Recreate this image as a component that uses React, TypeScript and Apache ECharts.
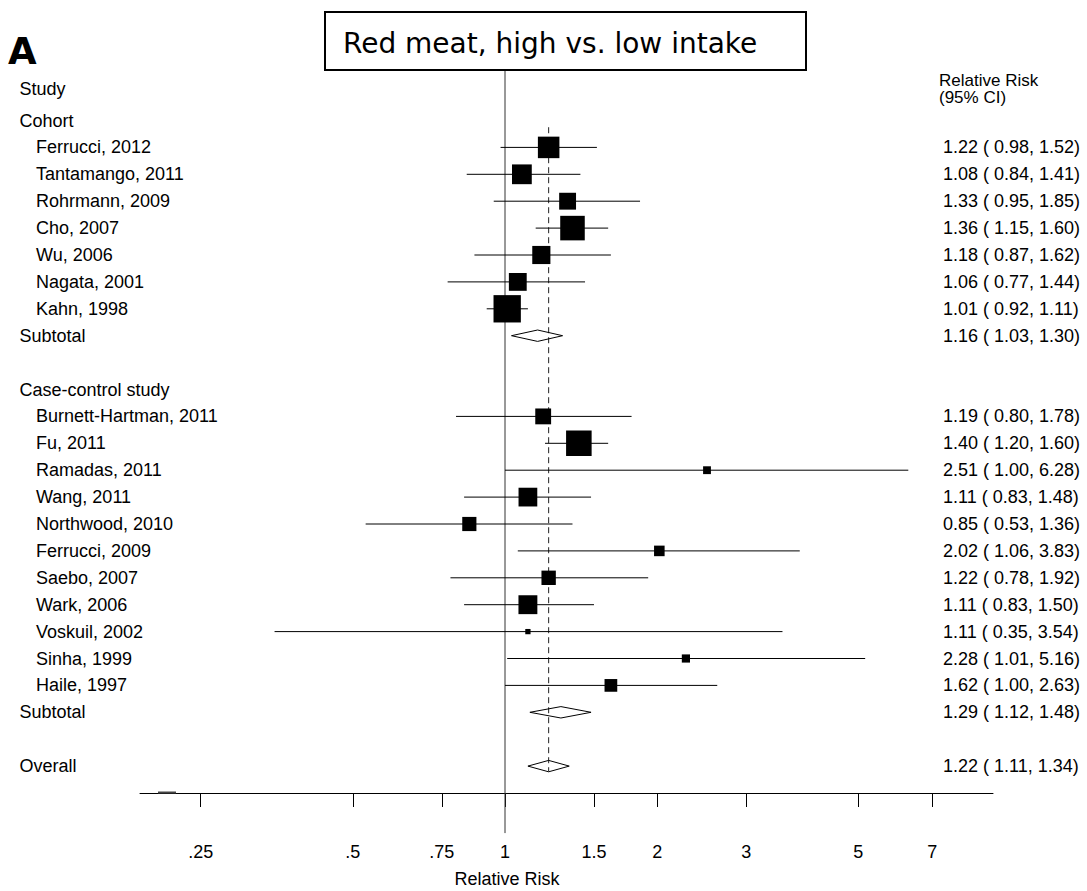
import React, { useEffect, useRef } from "react";
import * as echarts from "echarts";

// ---------- data ----------
const cohortStudies = ["Ferrucci, 2012", "Tantamango, 2011", "Rohrmann, 2009", "Cho, 2007", "Wu, 2006", "Nagata, 2001", "Kahn, 1998"];
const cohortRR = [1.22, 1.08, 1.33, 1.36, 1.18, 1.06, 1.01];
const cohortLo = [0.98, 0.84, 0.95, 1.15, 0.87, 0.77, 0.92];
const cohortHi = [1.52, 1.41, 1.85, 1.6, 1.62, 1.44, 1.11];
const cohortWeight = [8.3, 7.0, 5.1, 10.8, 5.9, 5.7, 13.4];
const cohortSubtotal = [1.16, 1.03, 1.3];

const ccStudies = ["Burnett-Hartman, 2011", "Fu, 2011", "Ramadas, 2011", "Wang, 2011", "Northwood, 2010", "Ferrucci, 2009", "Saebo, 2007", "Wark, 2006", "Voskuil, 2002", "Sinha, 1999", "Haile, 1997"];
const ccRR = [1.19, 1.4, 2.51, 1.11, 0.85, 2.02, 1.22, 1.11, 1.11, 2.28, 1.62];
const ccLo = [0.8, 1.2, 1.0, 0.83, 0.53, 1.06, 0.78, 0.83, 0.35, 1.01, 1.0];
const ccHi = [1.78, 1.6, 6.28, 1.48, 1.36, 3.83, 1.92, 1.5, 3.54, 5.16, 2.63];
const ccWeight = [4.5, 11.7, 1.1, 6.3, 3.6, 2.0, 3.7, 6.4, 0.5, 1.2, 2.9];
const ccSubtotal = [1.29, 1.12, 1.48];

const overall = [1.22, 1.11, 1.34];

const xTicks = [0.25, 0.5, 0.75, 1, 1.5, 2, 3, 5, 7];
const xTickLabels = [".25", ".5", ".75", "1", "1.5", "2", "3", "5", "7"];

// ---------- layout / style ----------
const FONT = "'Liberation Sans', Arial, sans-serif";
const AXIS_Y = 793;
const ROW_H = 26.9;
const Y_MIN = -3;
const Y_MAX = 24;
const GRID_LEFT = 140;
const GRID_RIGHT_PX = 993;
const PX_PER_LN = 219.5;
const X_ONE = 505;
const X_MIN = (GRID_LEFT - X_ONE) / PX_PER_LN;
const X_MAX = (GRID_RIGHT_PX - X_ONE) / PX_PER_LN;
const BOX_K = 7.47;
const DIAMOND_HALF = 5.7;

type Row = {
  label: string;
  indent: boolean;
  row: number;
  kind: "header" | "study" | "pooled";
  est?: number;
  lo?: number;
  hi?: number;
  w?: number;
};

function buildRows(): Row[] {
  const rows: Row[] = [];
  let r = -1;
  rows.push({ label: "Cohort", indent: false, row: r++, kind: "header" });
  cohortStudies.forEach((s, i) =>
    rows.push({ label: s, indent: true, row: r++, kind: "study", est: cohortRR[i], lo: cohortLo[i], hi: cohortHi[i], w: cohortWeight[i] })
  );
  rows.push({ label: "Subtotal", indent: false, row: r++, kind: "pooled", est: cohortSubtotal[0], lo: cohortSubtotal[1], hi: cohortSubtotal[2] });
  r++;
  rows.push({ label: "Case-control study", indent: false, row: r++, kind: "header" });
  ccStudies.forEach((s, i) =>
    rows.push({ label: s, indent: true, row: r++, kind: "study", est: ccRR[i], lo: ccLo[i], hi: ccHi[i], w: ccWeight[i] })
  );
  rows.push({ label: "Subtotal", indent: false, row: r++, kind: "pooled", est: ccSubtotal[0], lo: ccSubtotal[1], hi: ccSubtotal[2] });
  r++;
  rows.push({ label: "Overall", indent: false, row: r++, kind: "pooled", est: overall[0], lo: overall[1], hi: overall[2] });
  return rows;
}

const fmt = (e: number, l: number, h: number) => `${e.toFixed(2)} ( ${l.toFixed(2)}, ${h.toFixed(2)})`;

function txt(text: string, x: number, y: number, extra: any = {}) {
  return {
    type: "text",
    style: {
      text,
      x,
      y,
      fill: "#000",
      fontSize: 18,
      fontFamily: FONT,
      align: "left",
      verticalAlign: "middle",
      textAlign: "left",
      textVerticalAlign: "middle",
      ...extra,
    },
  };
}

export default function App() {
  const ref = useRef<HTMLDivElement>(null);

  useEffect(() => {
    if (!ref.current) return;
    const chart = echarts.init(ref.current, null, { renderer: "svg" });
    const rows = buildRows();

    const markData = rows
      .filter((r) => r.kind !== "header")
      .map((r) => [
        Math.log(r.est as number),
        Math.log(r.lo as number),
        Math.log(r.hi as number),
        r.row,
        r.kind === "study" ? BOX_K * Math.sqrt(r.w as number) : 0,
        r.kind === "study" ? 0 : 1,
      ]);

    const labelData = rows.map((r, i) => [0, r.row, i]);

    const refData = [
      [0, -2.874, 25.49, 0],
      [Math.log(overall[0]), -0.75, 23.2, 1],
    ];

    const lnTicks = xTicks.map((t) => Math.log(t));
    const gridTop = AXIS_Y - (Y_MAX - Y_MIN) * ROW_H;

    const option: any = {
      animation: false,
      backgroundColor: "#fff",
      grid: {
        left: GRID_LEFT,
        right: 1087 - GRID_RIGHT_PX,
        top: gridTop,
        bottom: 891 - AXIS_Y,
        containLabel: false,
      },
      xAxis: {
        type: "value",
        min: X_MIN,
        max: X_MAX,
        axisLine: { show: true, onZero: false, lineStyle: { color: "#000", width: 1 } },
        axisTick: { show: true, length: 14, lineStyle: { color: "#000", width: 1 }, customValues: lnTicks },
        axisLabel: {
          customValues: lnTicks,
          formatter: (v: number) => {
            const i = lnTicks.findIndex((t) => Math.abs(t - v) < 1e-6);
            return i >= 0 ? xTickLabels[i] : "";
          },
          margin: 50,
          fontSize: 18,
          fontFamily: FONT,
          color: "#000",
        },
        splitLine: { show: false },
      },
      yAxis: { type: "value", min: Y_MIN, max: Y_MAX, inverse: true, show: false },
      graphic: [
        {
          type: "rect",
          shape: { x: 325, y: 12, width: 481, height: 58 },
          style: { fill: "#fff", stroke: "#000", lineWidth: 2 },
          z: 10,
        },
        { ...txt("Red meat, high vs. low intake", 343, 43.5, { fontSize: 28, fontFamily: "'DejaVu Sans', Verdana, sans-serif" }), z: 11 },
        { ...txt("A", 8, 51.5, { fontSize: 37, fontWeight: "bold", fontFamily: "'DejaVu Sans', sans-serif" }), z: 11 },
        { ...txt("Study", 19.5, 89), z: 11 },
        { ...txt("Relative Risk", 939, 80, { fontSize: 17 }), z: 11 },
        { ...txt("(95% CI)", 939, 97, { fontSize: 17 }), z: 11 },
        { ...txt("Relative Risk", 507, 879, { align: "center", textAlign: "center" }), z: 11 },
        {
          type: "line",
          shape: { x1: 158, y1: 792.5, x2: 176, y2: 792.5 },
          style: { stroke: "#444", lineWidth: 2 },
          z: 11,
        },
      ],
      series: [
        {
          type: "custom",
          name: "reference",
          coordinateSystem: "cartesian2d",
          clip: false,
          z: 1,
          data: refData,
          renderItem: (_p: any, api: any) => {
            const a = api.coord([api.value(0), api.value(1)]);
            const b = api.coord([api.value(0), api.value(2)]);
            const dashed = api.value(3) === 1;
            return {
              type: "line",
              shape: { x1: a[0], y1: a[1], x2: b[0], y2: b[1] },
              style: {
                stroke: dashed ? "#222" : "#333",
                lineWidth: 1,
                lineDash: dashed ? [6, 4] : null,
              },
            };
          },
        },
        {
          type: "custom",
          name: "estimates",
          coordinateSystem: "cartesian2d",
          clip: false,
          z: 3,
          data: markData,
          renderItem: (_p: any, api: any) => {
            const row = api.value(3);
            const c = api.coord([api.value(0), row]);
            const lo = api.coord([api.value(1), row]);
            const hi = api.coord([api.value(2), row]);
            if (api.value(5) === 0) {
              const s = api.value(4);
              return {
                type: "group",
                children: [
                  {
                    type: "line",
                    shape: { x1: lo[0], y1: c[1], x2: hi[0], y2: c[1] },
                    style: { stroke: "#000", lineWidth: 1 },
                  },
                  {
                    type: "rect",
                    shape: { x: c[0] - s / 2, y: c[1] - s / 2, width: s, height: s },
                    style: { fill: "#000" },
                  },
                ],
              };
            }
            const h = DIAMOND_HALF;
            return {
              type: "polygon",
              shape: {
                points: [
                  [lo[0], c[1]],
                  [c[0], c[1] - h],
                  [hi[0], c[1]],
                  [c[0], c[1] + h],
                ],
              },
              style: { fill: "none", stroke: "#000", lineWidth: 1 },
            };
          },
        },
        {
          type: "custom",
          name: "labels",
          coordinateSystem: "cartesian2d",
          clip: false,
          z: 4,
          data: labelData,
          renderItem: (_p: any, api: any) => {
            const r = rows[api.value(2)];
            const y = api.coord([0, r.row])[1];
            const children: any[] = [txt(r.label, r.indent ? 36 : 19.5, y)];
            if (r.kind !== "header") {
              children.push(txt(fmt(r.est as number, r.lo as number, r.hi as number), 943, y));
            }
            return { type: "group", children };
          },
        },
      ],
    };

    chart.setOption(option);
    return () => chart.dispose();
  }, []);

  return (
    <div
      ref={ref}
      style={{ position: "absolute", left: 0, top: 0, width: 1087, height: 891, background: "#fff" }}
    />
  );
}
